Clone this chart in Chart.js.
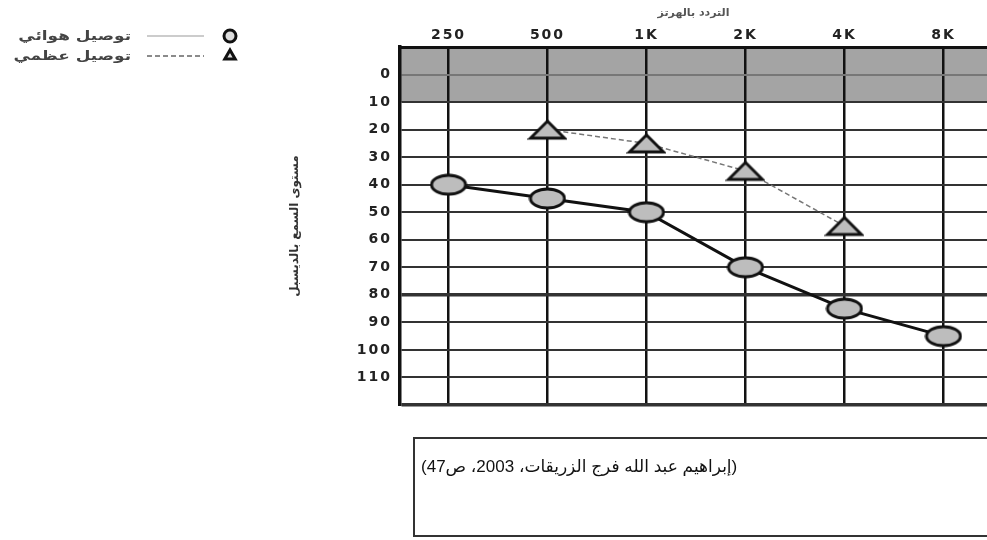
<!DOCTYPE html>
<html lang="ar">
<head>
<meta charset="utf-8">
<script src="https://cdn.jsdelivr.net/npm/chart.js@4.4.1/dist/chart.umd.min.js"></script>
<style>
  html, body { margin: 0; padding: 0; background: #fff; }
  #wrap { position: relative; width: 987px; height: 540px; overflow: hidden; }
  #note {
    position: absolute; left: 413px; top: 437px; width: 620px; height: 100px;
    border: 2px solid #333; box-sizing: border-box;
    font: 17px "Liberation Sans", "DejaVu Sans", sans-serif; color: #111;
    direction: rtl; text-align: left; padding: 17px 0 0 6px;
  }
</style>
</head>
<body>
<div id="wrap">
  <canvas id="c" width="987" height="540"></canvas>
  <div id="note">(إبراهيم عبد الله فرج الزريقات، 2003، ص47)</div>
</div>
<script>
// audiogram values (dB HL)
const frequencies = ["250", "500", "1K", "2K", "4K", "8K"];
const airConduction = [40, 45, 50, 70, 85, 95];
const boneConduction = [null, 20, 25, 35, 55, null];
const dbTicks = [0, 10, 20, 30, 40, 50, 60, 70, 80, 90, 100, 110];
const seriesNames = ["توصيل هوائي", "توصيل عظمي"];

const toPoints = arr => arr.map((v, i) => ({ x: i, y: v })).filter(p => p.y !== null);

// wide symbols like the scanned audiogram
function makeSymbol(kind, w, h) {
  const cv = document.createElement("canvas");
  cv.width = w;
  cv.height = h;
  const g = cv.getContext("2d");
  g.fillStyle = "#bdbdbd";
  g.strokeStyle = "#111";
  g.lineWidth = 3;
  g.beginPath();
  if (kind === "ellipse") {
    g.ellipse(w / 2, h / 2, w / 2 - 2, h / 2 - 2, 0, 0, Math.PI * 2);
  } else {
    g.moveTo(3, h - 3);
    g.lineTo(w - 3, h - 3);
    g.lineTo(w / 2, 3);
    g.closePath();
  }
  g.fill();
  g.stroke();
  return cv;
}
const airSymbol = makeSymbol("ellipse", 38, 23);
const boneSymbol = makeSymbol("triangle", 40, 23);

// gray band from -10 to 10 dB
const shadePlugin = {
  id: "shade",
  beforeDraw(chart) {
    const { ctx, chartArea, scales } = chart;
    const top = scales.y.getPixelForValue(-10);
    const bottom = scales.y.getPixelForValue(10);
    ctx.save();
    ctx.fillStyle = "#a4a4a4";
    ctx.fillRect(chartArea.left, top, chartArea.right - chartArea.left, bottom - top);
    ctx.restore();
  }
};

// tick labels of the scan are wide, spread them a little
const spacedLabels = {
  id: "spacedLabels",
  afterLayout(chart) {
    Object.values(chart.scales).forEach(s => {
      if (s._spaced) return;
      const draw = s.drawLabels.bind(s);
      s.drawLabels = area => {
        s.ctx.save();
        s.ctx.letterSpacing = "2px";
        draw(area);
        s.ctx.restore();
      };
      s._spaced = true;
    });
  }
};

// legend in the top-left corner, right-to-left
const legendShapes = ["circle", "triangle"];
const legendPlugin = {
  id: "rtlLegend",
  afterDraw(chart) {
    const ctx = chart.ctx;
    chart.data.datasets.forEach((ds, i) => {
      const y = 36 + i * 20;
      ctx.save();
      ctx.strokeStyle = i === 0 ? "#bbb" : "#666";
      ctx.lineWidth = 1.5;
      ctx.setLineDash(ds.borderDash || []);
      ctx.beginPath();
      ctx.moveTo(147, y);
      ctx.lineTo(204, y);
      ctx.stroke();
      ctx.setLineDash([]);
      ctx.fillStyle = "#ddd";
      ctx.strokeStyle = "#111";
      ctx.lineWidth = 3;
      Chart.helpers.drawPoint(ctx, { pointStyle: legendShapes[i], radius: 6, borderWidth: 3, rotation: 0 }, 230, y);
      ctx.fillStyle = "#444";
      ctx.font = "bold 13px 'DejaVu Sans', sans-serif";
      ctx.textAlign = "right";
      ctx.textBaseline = "middle";
      ctx.translate(131, y + 1);
      ctx.scale(1.3, 1);
      ctx.fillText(ds.label, 0, 0);
      ctx.restore();
    });
  }
};

const tickFont = { family: "DejaVu Sans", size: 14, weight: "bold" };

new Chart(document.getElementById("c"), {
  type: "line",
  data: {
    datasets: [
      {
        label: seriesNames[0],
        data: toPoints(airConduction),
        borderColor: "#111",
        borderWidth: 3,
        pointStyle: airSymbol,
      },
      {
        label: seriesNames[1],
        data: toPoints(boneConduction),
        borderColor: "#777",
        borderWidth: 1.5,
        borderDash: [5, 3],
        pointStyle: boneSymbol,
      },
    ],
  },
  options: {
    responsive: false,
    animation: false,
    events: [],
    layout: { autoPadding: false, padding: { left: 280, top: 0, right: 0, bottom: 135 } },
    plugins: {
      legend: { display: false },
      tooltip: { enabled: false },
    },
    scales: {
      x: {
        type: "linear",
        position: "top",
        min: -0.49,
        max: 5.44,
        afterBuildTicks: s => { s.ticks = frequencies.map((f, i) => ({ value: i })); },
        afterFit: s => { s.height = 47; s.paddingLeft = 0; s.paddingRight = 0; },
        ticks: {
          callback: v => frequencies[v],
          font: tickFont,
          color: "#222",
          padding: 3,
          maxRotation: 0,
        },
        grid: { color: "#111", lineWidth: 2.5, drawTicks: false },
        border: { display: true, color: "#111", width: 3 },
        title: {
          display: true,
          text: "التردد بالهرتز",
          font: { family: "DejaVu Sans", size: 11, weight: "bold" },
          color: "#555",
          padding: { top: 7, bottom: 1 },
        },
      },
      y: {
        type: "linear",
        reverse: true,
        min: -10,
        max: 120,
        afterBuildTicks: s => { s.ticks = [-10, ...dbTicks, 120].map(v => ({ value: v })); },
        afterFit: s => { s.width = 120; },
        ticks: {
          callback: v => (dbTicks.includes(v) ? String(v) : ""),
          font: tickFont,
          color: "#222",
          padding: 8,
        },
        grid: {
          color: ctx => (ctx.tick && ctx.tick.value === 0 ? "#777" : "#333"),
          lineWidth: ctx => (ctx.tick && (ctx.tick.value === 80 || ctx.tick.value === 120) ? 3.5 : 2),
          drawTicks: false,
        },
        border: { display: true, color: "#111", width: 3.5 },
        title: {
          display: true,
          text: "مستوى السمع بالديسبل",
          font: { family: "DejaVu Sans", size: 12, weight: "bold" },
          color: "#333",
          padding: { top: 8, bottom: 4 },
        },
      },
    },
  },
  plugins: [shadePlugin, spacedLabels, legendPlugin],
});
</script>
</body>
</html>
